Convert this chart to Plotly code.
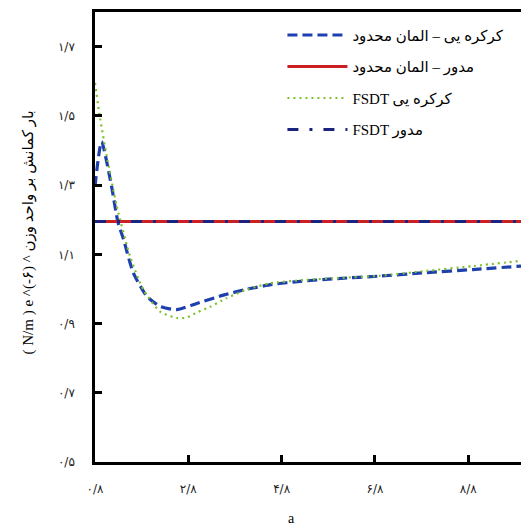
import plotly.graph_objects as go

# ---- data ----
x_fem_corr = [0.8, 0.94, 1.15, 1.29, 1.41, 1.62, 1.91, 2.19, 2.55, 2.98, 3.55, 4.05, 4.6, 5.2, 6.0, 6.9, 7.9, 8.9, 9.93]
y_fem_corr = [1.297, 1.425, 1.30, 1.194, 1.144, 1.047, 0.979, 0.950, 0.940, 0.958, 0.982, 0.999, 1.013, 1.022, 1.030, 1.037, 1.047, 1.056, 1.066]

x_fsdt_corr = [0.8, 0.91, 1.05, 1.265, 1.55, 1.835, 2.19, 2.55, 2.76, 3.0, 3.26, 3.6, 4.05, 4.55, 5.3, 6.1, 6.91, 7.9, 8.9, 9.93]
y_fsdt_corr = [1.595, 1.492, 1.385, 1.240, 1.095, 0.998, 0.935, 0.916, 0.917, 0.933, 0.948, 0.972, 0.998, 1.016, 1.026, 1.032, 1.038, 1.052, 1.066, 1.081]

x_circ = [0.8, 9.93]
y_fem_circ = [1.195, 1.195]
y_fsdt_circ = [1.195, 1.195]

x_tickvals = [0.8, 2.8, 4.8, 6.8, 8.8]
x_ticktext = ["۰/۸", "۲/۸", "۴/۸", "۶/۸", "۸/۸"]
y_tickvals = [0.5, 0.7, 0.9, 1.1, 1.3, 1.5, 1.7]
y_ticktext = ["۰/۵", "۰/۷", "۰/۹", "۱/۱", "۱/۳", "۱/۵", "۱/۷"]

names = ["کرکره یی – المان محدود", "مدور – المان محدود", "FSDT کرکره یی", "FSDT مدور"]

FONT = "Liberation Serif, DejaVu Sans, serif"

fig = go.Figure()
fig.add_trace(go.Scatter(x=x_fem_corr, y=y_fem_corr, mode="lines", name=names[0], legendgroup="g1",
                         line=dict(color="#1e3fae", width=3.2, dash="10px,5px", shape="spline", smoothing=0.6)))
fig.add_trace(go.Scatter(x=x_circ, y=y_fem_circ, mode="lines", name=names[1], legendgroup="g2",
                         line=dict(color="#cc1f24", width=3)))
fig.add_trace(go.Scatter(x=x_fsdt_corr, y=y_fsdt_corr, mode="lines", name=names[2], legendgroup="g3",
                         line=dict(color="#7fbf2a", width=2.2, dash="2px,4px", shape="spline", smoothing=0.6)))
fig.add_trace(go.Scatter(x=x_circ, y=y_fsdt_circ, mode="lines", name=names[3], legendgroup="g4",
                         line=dict(color="#1a237e", width=3, dash="11px,11px,3px,11px")))

fig.update_layout(
    width=521, height=526,
    margin=dict(l=95, r=0, t=12, b=64),
    paper_bgcolor="white", plot_bgcolor="white",
    font=dict(family=FONT, size=13, color="black"),
    showlegend=True,
    legend=dict(x=0.44, y=0.985, xanchor="left", yanchor="top",
                bgcolor="rgba(0,0,0,0)", font=dict(size=15, family=FONT),
                itemwidth=60, tracegroupgap=9),
    xaxis=dict(range=[0.8, 9.93], tickvals=x_tickvals, ticktext=x_ticktext,
               ticks="inside", ticklen=7, tickwidth=3, tickcolor="black",
               showline=True, linecolor="black", linewidth=2.5, mirror=True,
               showgrid=False, zeroline=False, ticklabelstandoff=14,
               tickfont=dict(family="DejaVu Sans", size=12, color="#222")),
    yaxis=dict(range=[0.5, 1.8], tickvals=y_tickvals, ticktext=y_ticktext,
               ticks="inside", ticklen=7, tickwidth=3, tickcolor="black",
               showline=True, linecolor="black", linewidth=2.5, mirror=False,
               showgrid=False, zeroline=False, ticklabelstandoff=15,
               tickfont=dict(family="DejaVu Sans", size=12, color="#222")),
    annotations=[
        dict(text="a", x=0.462, y=-0.105, xref="paper", yref="paper",
             showarrow=False, font=dict(size=14, family=FONT), yanchor="top"),
        dict(text="( N/m ) e ^(-۶) ^ بار کمانش بر واحد وزن", x=-0.155, y=0.51,
             xref="paper", yref="paper", xanchor="center", yanchor="middle",
             showarrow=False, textangle=-90, font=dict(size=15, family=FONT)),
    ],
)

fig.write_html("out.html", config={"displayModeBar": False},
               post_script="document.body.style.margin='0px';")
